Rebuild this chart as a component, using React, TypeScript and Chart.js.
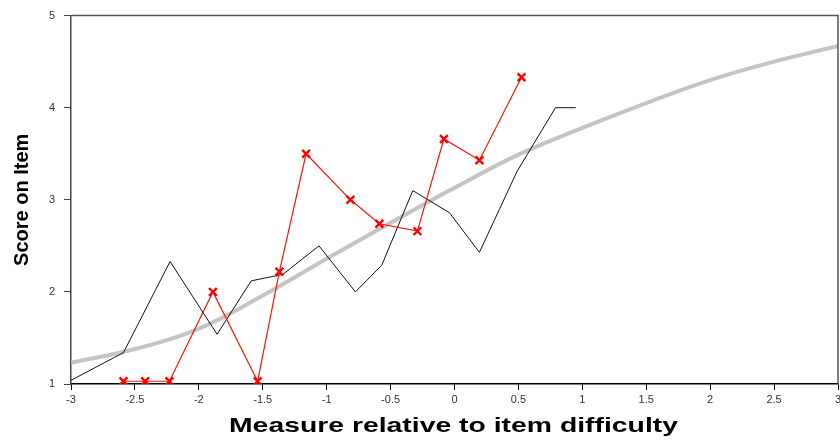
import React, { useEffect, useRef } from "react";
import { Chart, registerables } from "chart.js";

Chart.register(...registerables);

// Model expected-score curve (grey)
const modelX = [-3, -2.5, -2, -1.5, -1, -0.5, 0, 0.5, 1, 1.5, 2, 2.5, 3];
const modelY = [1.23, 1.38, 1.6, 1.96, 2.36, 2.75, 3.13, 3.49, 3.78, 4.05, 4.3, 4.5, 4.67];

// Empirical line (black)
const empX = [-3, -2.59, -2.225, -1.857, -1.59, -1.343, -1.06, -0.775, -0.569, -0.326, -0.04, 0.195, 0.49, 0.79, 0.949];
const empY = [1.04, 1.34, 2.33, 1.54, 2.12, 2.19, 2.5, 2.0, 2.29, 3.1, 2.86, 2.43, 3.31, 4.0, 4.0];

// Observed points (red with crosses)
const obsX = [-2.59, -2.42, -2.23, -1.89, -1.54, -1.37, -1.161, -0.814, -0.588, -0.29, -0.083, 0.195, 0.524];
const obsY = [1.03, 1.03, 1.03, 2.0, 1.03, 2.22, 3.5, 3.0, 2.74, 2.66, 3.66, 3.43, 4.33];

const xTicks = [-3, -2.5, -2, -1.5, -1, -0.5, 0, 0.5, 1, 1.5, 2, 2.5, 3];
const yTicks = [1, 2, 3, 4, 5];

const xTitle = "Measure relative to item difficulty";
const yTitle = "Score on Item";

const toPts = (xs: number[], ys: number[]) => xs.map((x, i) => ({ x, y: ys[i] }));

const frame = {
  id: "frame",
  afterDraw(chart: any) {
    const { ctx, chartArea: a } = chart;
    ctx.save();
    ctx.strokeStyle = "#555";
    ctx.lineWidth = 1.5;
    ctx.beginPath();
    ctx.moveTo(a.left, a.top);
    ctx.lineTo(a.right, a.top);
    ctx.lineTo(a.right, a.bottom);
    ctx.stroke();
    // wide bold x-axis title (stretched horizontally like the reference)
    const cx = (a.left + a.right) / 2;
    ctx.translate(cx - 1, 426);
    ctx.scale(1.35, 1);
    ctx.font = "bold 21px 'Liberation Sans', Arial, sans-serif";
    ctx.fillStyle = "#000";
    ctx.textAlign = "center";
    ctx.textBaseline = "middle";
    ctx.fillText(xTitle, 0, 0);
    ctx.restore();
  },
};

export default function App() {
  const ref = useRef<HTMLCanvasElement | null>(null);
  useEffect(() => {
    document.body.style.margin = "0";
    const canvas = ref.current!;
    const chart = new Chart(canvas, {
      type: "scatter",
      data: {
        datasets: [
          {
            data: toPts(modelX, modelY),
            showLine: true,
            borderColor: "#c4c4c4",
            borderWidth: 4,
            pointRadius: 0,
            tension: 0.4,
            order: 3,
          },
          {
            data: toPts(empX, empY),
            showLine: true,
            borderColor: "#111",
            borderWidth: 1,
            pointRadius: 0,
            tension: 0,
            order: 2,
          },
          {
            data: toPts(obsX, obsY),
            showLine: true,
            borderColor: "#ff1010",
            borderWidth: 1.2,
            pointStyle: "crossRot",
            pointRadius: 5.5,
            pointBorderWidth: 2.4,
            pointBorderColor: "#ff0000",
            tension: 0,
            order: 1,
          },
        ],
      },
      options: {
        animation: false,
        responsive: false,
        events: [],
        layout: { autoPadding: false, padding: { top: 14, right: 2, bottom: 0, left: 0 } },
        plugins: { legend: { display: false }, tooltip: { enabled: false } },
        scales: {
          x: {
            type: "linear",
            min: -3,
            max: 3,
            afterBuildTicks: (s: any) => {
              s.ticks = xTicks.map((v) => ({ value: v }));
            },
            afterFit: (s: any) => {
              s.height = 56;
              s.paddingRight = 0;
              s.paddingLeft = 0;
            },
            ticks: {
              color: "#333",
              font: { family: "Liberation Sans, Arial", size: 11 },
              padding: 3,
              maxRotation: 0,
              autoSkip: false,
              callback: (v: any) => String(v),
            },
            grid: { drawOnChartArea: false, drawTicks: true, tickLength: 6, color: "#000", lineWidth: 1 },
            border: { display: true, color: "#000", width: 1.5 },
            title: { display: false, text: xTitle },
          },
          y: {
            type: "linear",
            min: 1,
            max: 5,
            afterBuildTicks: (s: any) => {
              s.ticks = yTicks.map((v) => ({ value: v }));
            },
            afterFit: (s: any) => {
              s.width = 71;
            },
            ticks: {
              color: "#333",
              font: { family: "Liberation Sans, Arial", size: 11 },
              padding: 9,
              autoSkip: false,
              callback: (v: any) => String(v),
            },
            grid: { drawOnChartArea: false, drawTicks: true, tickLength: 7, color: "#444", lineWidth: 1 },
            border: { display: true, color: "#444", width: 1.5 },
            title: {
              display: true,
              text: yTitle,
              color: "#000",
              font: { family: "Liberation Sans, Arial", size: 20, weight: "bold" },
              padding: { top: 10, bottom: 0 },
            },
          },
        },
      },
      plugins: [frame],
    });
    return () => chart.destroy();
  }, []);
  return <canvas ref={ref} width={840} height={440} style={{ display: "block" }} />;
}
